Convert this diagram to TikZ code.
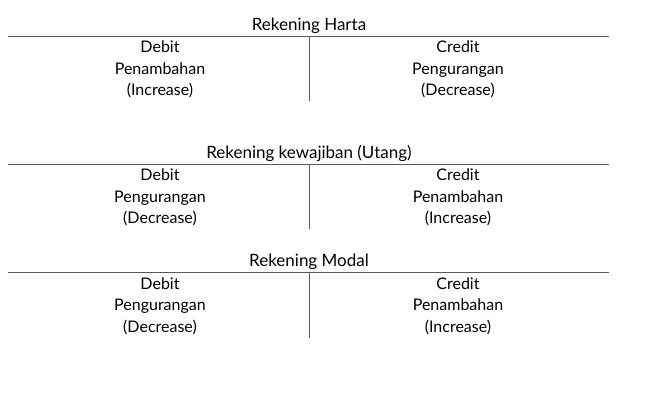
\documentclass[tikz,border=0pt]{standalone}
\usepackage{fontspec}
\setmainfont{Lato}
\begin{document}
\begin{tikzpicture}[x=1bp,y=-1bp,
  rule/.style={draw=black!65,line width=0.9bp},
  lbl/.style={anchor=base,inner sep=0pt,font=\fontsize{16bp}{19bp}\selectfont},
  ttl/.style={lbl,font=\fontsize{17bp}{20bp}\selectfont}]
\useasboundingbox (0,0) rectangle (654,409);
\foreach \ln/\title/\dl/\dm/\cl/\cm [count=\i] in {
  36/Rekening Harta/Penambahan/(Increase)/Pengurangan/(Decrease),
  164/Rekening kewajiban (Utang)/Pengurangan/(Decrease)/Penambahan/(Increase),
  272.5/Rekening Modal/Pengurangan/(Decrease)/Penambahan/(Increase)} {
  \node[ttl] (t\i) at (309,\ln-6) {\title};
  \coordinate (l\i) at (8,\ln);
  \coordinate (r\i) at (609,\ln);
  \coordinate (vt\i) at (309,\ln);
  \coordinate (vb\i) at (309,\ln+65);
  \draw[rule] (l\i) -- (r\i);
  \draw[rule] (vt\i) -- (vb\i);
  \node[lbl] (d\i) at (160,\ln+16.5) {Debit};
  \node[lbl] (da\i) at (160,\ln+38) {\dl};
  \node[lbl] (db\i) at (160,\ln+59.5) {\dm};
  \node[lbl] (c\i) at (458,\ln+16.5) {Credit};
  \node[lbl] (ca\i) at (458,\ln+38) {\cl};
  \node[lbl] (cb\i) at (458,\ln+59.5) {\cm};
}
\end{tikzpicture}
\end{document}
